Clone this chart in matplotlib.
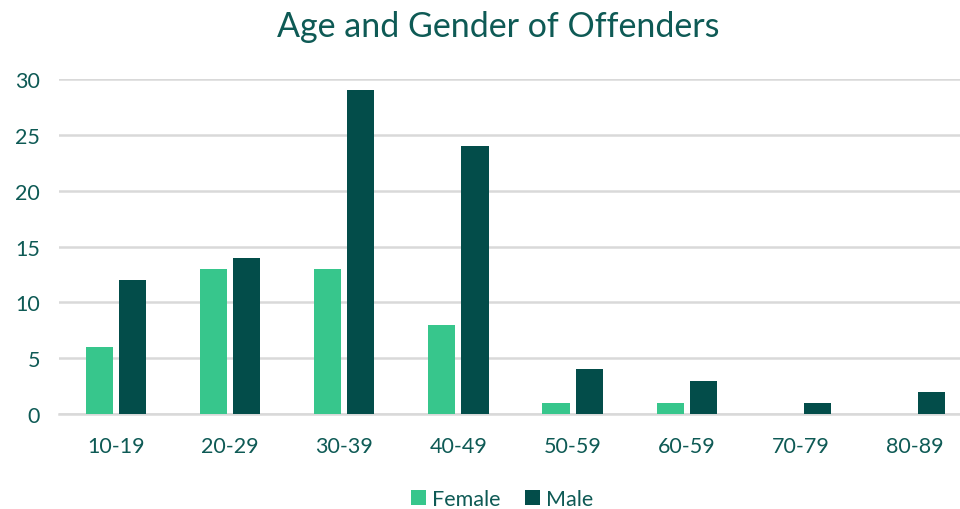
import numpy as np
import matplotlib
matplotlib.use('Agg')
import matplotlib.pyplot as plt

# data
age_groups = ['10-19', '20-29', '30-39', '40-49', '50-59', '60-59', '70-79', '80-89']
female = [6, 13, 13, 8, 1, 1, 0, 0]
male = [12, 14, 29, 24, 4, 3, 1, 2]
y_ticks = [0, 5, 10, 15, 20, 25, 30]

female_color = '#37C68C'
male_color = '#034D4A'
text_color = '#0E5A55'
grid_color = '#D9D9D9'

plt.rcParams['font.family'] = ['Lato', 'DejaVu Sans']

fig = plt.figure(figsize=(9.6, 5.1), dpi=100)
ax = fig.add_axes([59 / 960, 1 - 415 / 510, 913 / 960, 335 / 510])

x = np.arange(len(age_groups))
w = 0.237
off = 0.145
ax.bar(x - off, female, w, color=female_color, label='Female', zorder=3)
ax.bar(x + off, male, w, color=male_color, label='Male', zorder=3)

ax.set_xlim(-0.5, len(age_groups) - 0.5)
ax.set_ylim(0, 30)
ax.set_yticks(y_ticks)
ax.set_xticks(x)
ax.set_xticklabels(age_groups)
ax.yaxis.grid(True, color=grid_color, lw=1.8, zorder=0)
ax.set_axisbelow(True)
for s in ['top', 'right', 'left']:
    ax.spines[s].set_visible(False)
ax.spines['bottom'].set_color(grid_color)
ax.spines['bottom'].set_linewidth(1.8)
ax.tick_params(axis='both', length=0, labelsize=15.5, colors=text_color)
ax.tick_params(axis='x', pad=16)
ax.tick_params(axis='y', pad=13.5)

fig.text(0.519, 0.947, 'Age and Gender of Offenders', ha='center', va='center',
         fontsize=24.5, color=text_color)

leg = fig.legend(loc='center', bbox_to_anchor=(0.523, 0.02), ncol=2, frameon=False,
                 fontsize=15.5, handlelength=0.7, handleheight=0.7,
                 handletextpad=0.3, columnspacing=1.1)
for t in leg.get_texts():
    t.set_color(text_color)

fig.savefig('out.png', dpi=100, facecolor='white')
